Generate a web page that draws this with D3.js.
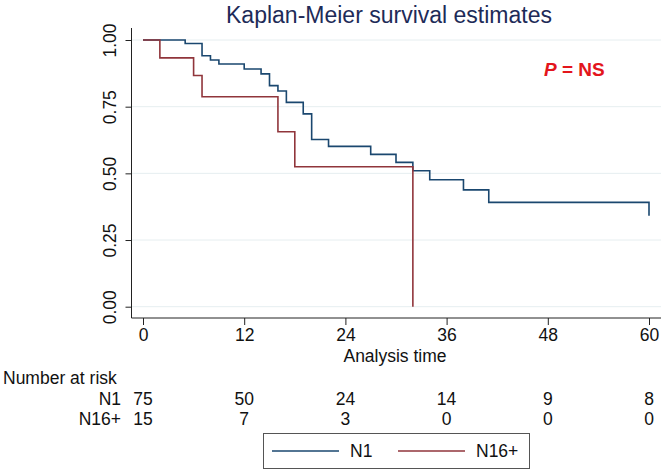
<!DOCTYPE html>
<html>
<head>
<meta charset="utf-8">
<script src="https://cdn.jsdelivr.net/npm/d3@7"></script>
<style>
  body { margin: 0; background: #fff; }
  svg { display: block; font-family: "Liberation Sans", Arial, sans-serif; }
</style>
</head>
<body>
<div id="chart"></div>
<script>
// Kaplan-Meier step data (months, survival)
const n1Times = [0, 5, 7, 8, 9, 12, 14, 15, 16, 17, 19, 20, 22, 27, 30, 32, 34, 38, 41, 60];
const n1Surv = [1, 0.987, 0.941, 0.925, 0.91, 0.891, 0.873, 0.829, 0.809, 0.766, 0.723, 0.627, 0.601, 0.571, 0.541, 0.51, 0.476, 0.438, 0.391, 0.341];

const n16Times = [0, 2, 6, 7, 16, 18, 32];
const n16Surv = [1, 0.933, 0.867, 0.787, 0.656, 0.525, 0];

// number at risk table
const riskTimes = [0, 12, 24, 36, 48, 60];
const n1Risk = [75, 50, 24, 14, 9, 8];
const n16Risk = [15, 7, 3, 0, 0, 0];

const yTicks = [0, 0.25, 0.5, 0.75, 1];
const groups = ["N1", "N16+"];
const colors = ["#1a476f", "#90353b"];

const width = 661, height = 471;
const fs = 17.5;

const x = d3.scaleLinear().domain([0, 60]).range([143, 649]);
const y = d3.scaleLinear().domain([0, 1]).range([306.7, 40]);

const svg = d3.select("#chart")
  .append("svg")
  .attr("width", width)
  .attr("height", height);

// gridlines
svg.append("g")
  .selectAll("line")
  .data(yTicks)
  .join("line")
  .attr("x1", 132)
  .attr("x2", 661)
  .attr("y1", d => y(d))
  .attr("y2", d => y(d))
  .attr("stroke", "#e6eef0")
  .attr("stroke-width", 1);

// y axis
const yAxis = svg.append("g")
  .attr("transform", "translate(131.5,0)")
  .call(d3.axisLeft(y).tickValues(yTicks).tickFormat(d3.format(".2f")).tickSize(6).tickSizeOuter(0));
yAxis.select(".domain").attr("d", `M0,${y(1) - 12}V318`).attr("stroke", "#222");
yAxis.selectAll(".tick line").attr("stroke", "#222");
yAxis.selectAll(".tick text")
  .attr("font-size", fs)
  .attr("fill", "#111")
  .attr("x", null)
  .attr("dy", null)
  .attr("text-anchor", "middle")
  .attr("transform", "translate(-20,0) rotate(-90)")
  .attr("y", 0)
  .attr("dominant-baseline", "middle");

// x axis
const xAxis = svg.append("g")
  .attr("transform", "translate(0,318)")
  .call(d3.axisBottom(x).tickValues(riskTimes).tickSize(7).tickSizeOuter(0));
xAxis.select(".domain").attr("d", "M131.5,0H661").attr("stroke", "#222");
xAxis.selectAll(".tick line").attr("stroke", "#222");
xAxis.selectAll(".tick text")
  .attr("font-size", fs)
  .attr("fill", "#111")
  .attr("y", 11)
  .attr("dy", "0.71em");

svg.append("text")
  .attr("x", 395)
  .attr("y", 362)
  .attr("text-anchor", "middle")
  .attr("font-size", fs)
  .attr("fill", "#111")
  .text("Analysis time");

// title
svg.append("text")
  .attr("x", 389)
  .attr("y", 23)
  .attr("text-anchor", "middle")
  .attr("font-size", 23)
  .attr("fill", "#1e2b58")
  .text("Kaplan-Meier survival estimates");

// p value
const p = svg.append("text")
  .attr("x", 544)
  .attr("y", 76)
  .attr("font-size", 19)
  .attr("font-weight", "bold")
  .attr("fill", "#e3151c");
p.append("tspan").attr("font-style", "italic").text("P");
p.append("tspan").text(" = NS");

// survival curves
const line = d3.line()
  .x(d => x(d[0]))
  .y(d => y(d[1]))
  .curve(d3.curveStepAfter);

const series = [
  d3.zip(n1Times, n1Surv),
  d3.zip(n16Times, n16Surv)
];

svg.append("g")
  .selectAll("path")
  .data(series)
  .join("path")
  .attr("d", line)
  .attr("fill", "none")
  .attr("stroke", (d, i) => colors[i])
  .attr("stroke-width", 1.6);

// number at risk
svg.append("text")
  .attr("x", 3)
  .attr("y", 384)
  .attr("font-size", fs)
  .attr("fill", "#111")
  .text("Number at risk");

const riskRows = [n1Risk, n16Risk];
riskRows.forEach((row, i) => {
  const yy = 405 + i * 20;
  svg.append("text")
    .attr("x", 121)
    .attr("y", yy)
    .attr("text-anchor", "end")
    .attr("font-size", fs)
    .attr("fill", "#111")
    .text(groups[i]);
  svg.append("g")
    .selectAll("text")
    .data(row)
    .join("text")
    .attr("x", (d, j) => x(riskTimes[j]))
    .attr("y", yy)
    .attr("text-anchor", "middle")
    .attr("font-size", fs)
    .attr("fill", "#111")
    .text(d => d);
});

// legend
const legend = svg.append("g");
legend.append("rect")
  .attr("x", 263.5)
  .attr("y", 433.5)
  .attr("width", 266)
  .attr("height", 35)
  .attr("fill", "#fff")
  .attr("stroke", "#555")
  .attr("stroke-width", 1);

const legendX = [272, 398];
groups.forEach((g, i) => {
  legend.append("line")
    .attr("x1", legendX[i])
    .attr("x2", legendX[i] + 67)
    .attr("y1", 451)
    .attr("y2", 451)
    .attr("stroke", colors[i])
    .attr("stroke-width", 1.6);
  legend.append("text")
    .attr("x", legendX[i] + 78)
    .attr("y", 457)
    .attr("font-size", fs)
    .attr("fill", "#111")
    .text(g);
});
</script>
</body>
</html>
